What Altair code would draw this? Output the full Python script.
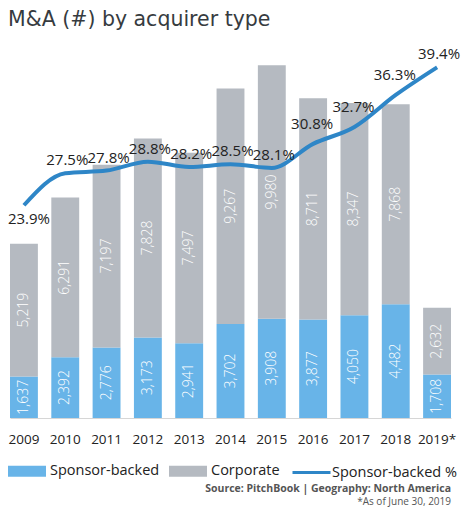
import altair as alt
import pandas as pd

years = ["2009", "2010", "2011", "2012", "2013", "2014", "2015", "2016", "2017", "2018", "2019*"]
sponsor = [1637, 2392, 2776, 3173, 2941, 3702, 3908, 3877, 4050, 4482, 1708]
corporate = [5219, 6291, 7197, 7828, 7497, 9267, 9980, 8711, 8347, 7868, 2632]
sponsor_pct = [23.9, 27.5, 27.8, 28.8, 28.2, 28.5, 28.1, 30.8, 32.7, 36.3, 39.4]
types = ["Sponsor-backed", "Corporate"]

BLUE = "#68b4e8"
GRAY = "#b5bac1"
LINE = "#2e86c7"
FONT = "Open Sans"

rows = []
for y, s, c in zip(years, sponsor, corporate):
    rows.append({"year": y, "type": types[0], "value": s, "order": 0})
    rows.append({"year": y, "type": types[1], "value": c, "order": 1})
bars_df = pd.DataFrame(rows)
line_df = pd.DataFrame({"year": years, "pct": sponsor_pct, "series": "Sponsor-backed %"})

W, H = 441, 396

x = alt.X(
    "year:N", sort=years,
    scale=alt.Scale(paddingInner=0.325, paddingOuter=0),
    axis=alt.Axis(title=None, labelAngle=0, labelFontSize=13.5, labelColor="#222222",
                  labelFont=FONT, ticks=False, domain=True, domainColor="#d6d6d6",
                  labelPadding=14),
)
count_scale = alt.Scale(domain=[0, 15590], nice=False, zero=True)
pct_scale = alt.Scale(domain=[0, 44.49], nice=False, zero=True)

RECT = "M-1,-0.29L1,-0.29L1,0.29L-1,0.29Z"

bars = alt.Chart(bars_df).mark_bar().encode(
    x=x,
    y=alt.Y("value:Q", stack="zero", scale=count_scale, axis=None),
    color=alt.Color(
        "type:N",
        scale=alt.Scale(domain=types, range=[BLUE, GRAY]),
        legend=alt.Legend(title=None, orient="none", legendX=-2, legendY=430,
                          direction="horizontal", symbolType=RECT, symbolSize=1444,
                          symbolStrokeWidth=0, labelFontSize=14.5, labelFont=FONT,
                          labelColor="#222222", columnPadding=9, labelOffset=4,
                          padding=0),
    ),
    order=alt.Order("order:Q"),
)

bar_text = alt.Chart(bars_df).transform_stack(
    stack="value", groupby=["year"], sort=[alt.SortField("order")], as_=["v0", "v1"]
).transform_calculate(mid="(datum.v0 + datum.v1) / 2").mark_text(
    angle=270, color="white", fontSize=14, font=FONT, fontWeight=300,
    align="center", baseline="middle"
).encode(
    x=x,
    y=alt.Y("mid:Q", scale=count_scale, axis=None),
    text=alt.Text("value:Q", format=","),
)

line = alt.Chart(line_df).mark_line(strokeWidth=4, interpolate="monotone").encode(
    x=x,
    y=alt.Y("pct:Q", scale=pct_scale, axis=None),
    stroke=alt.Stroke(
        "series:N",
        scale=alt.Scale(range=[LINE]),
        legend=alt.Legend(title=None, orient="none", legendX=281, legendY=430,
                          symbolType="stroke", symbolSize=1444, symbolStrokeWidth=3,
                          labelFontSize=14.5, labelFont=FONT, labelColor="#222222",
                          labelOffset=0, padding=0),
    ),
)

def pct_labels(sel, dy, dx):
    return alt.Chart(line_df).transform_filter(
        alt.FieldOneOfPredicate(field="year", oneOf=sel)
    ).transform_calculate(
        lbl="format(datum.pct, '.1f') + '%'"
    ).mark_text(fontSize=15, font=FONT, color="#222222", dy=dy, dx=dx).encode(
        x=x,
        y=alt.Y("pct:Q", scale=pct_scale, axis=None),
        text="lbl:N",
    )

lab_below = pct_labels(["2009"], 14, 5)
lab_above = pct_labels(["2010", "2011", "2012", "2013", "2014", "2015", "2019*"], -13, 2)
lab_high = pct_labels(["2016", "2017", "2018"], -20, -1)

ann = pd.DataFrame({"k": [0]})
title = alt.Chart(ann).mark_text(
    text="M&A (#) by acquirer type", align="left", baseline="alphabetic",
    fontSize=20.5, font="DejaVu Sans", color="#363b40"
).encode(x=alt.value(-2), y=alt.value(4))
source = alt.Chart(ann).mark_text(
    text="Source: PitchBook | Geography: North America", align="right", baseline="middle",
    fontSize=10.5, font=FONT, fontWeight="bold", color="#555555"
).encode(x=alt.value(441), y=alt.value(467))
asof = alt.Chart(ann).mark_text(
    text="*As of June 30, 2019", align="right", baseline="middle",
    fontSize=10, font=FONT, color="#555555"
).encode(x=alt.value(441), y=alt.value(480))

chart = alt.layer(
    bars, bar_text, line, lab_below, lab_above, lab_high, title, source, asof
).resolve_scale(y="independent").properties(
    width=W, height=H,
    autosize=alt.AutoSizeParams(type="none"),
    padding={"left": 2, "top": 14, "right": 11, "bottom": 90},
).configure_view(stroke=None)

chart.save("out.html", embed_options={"renderer": "svg", "actions": False})
